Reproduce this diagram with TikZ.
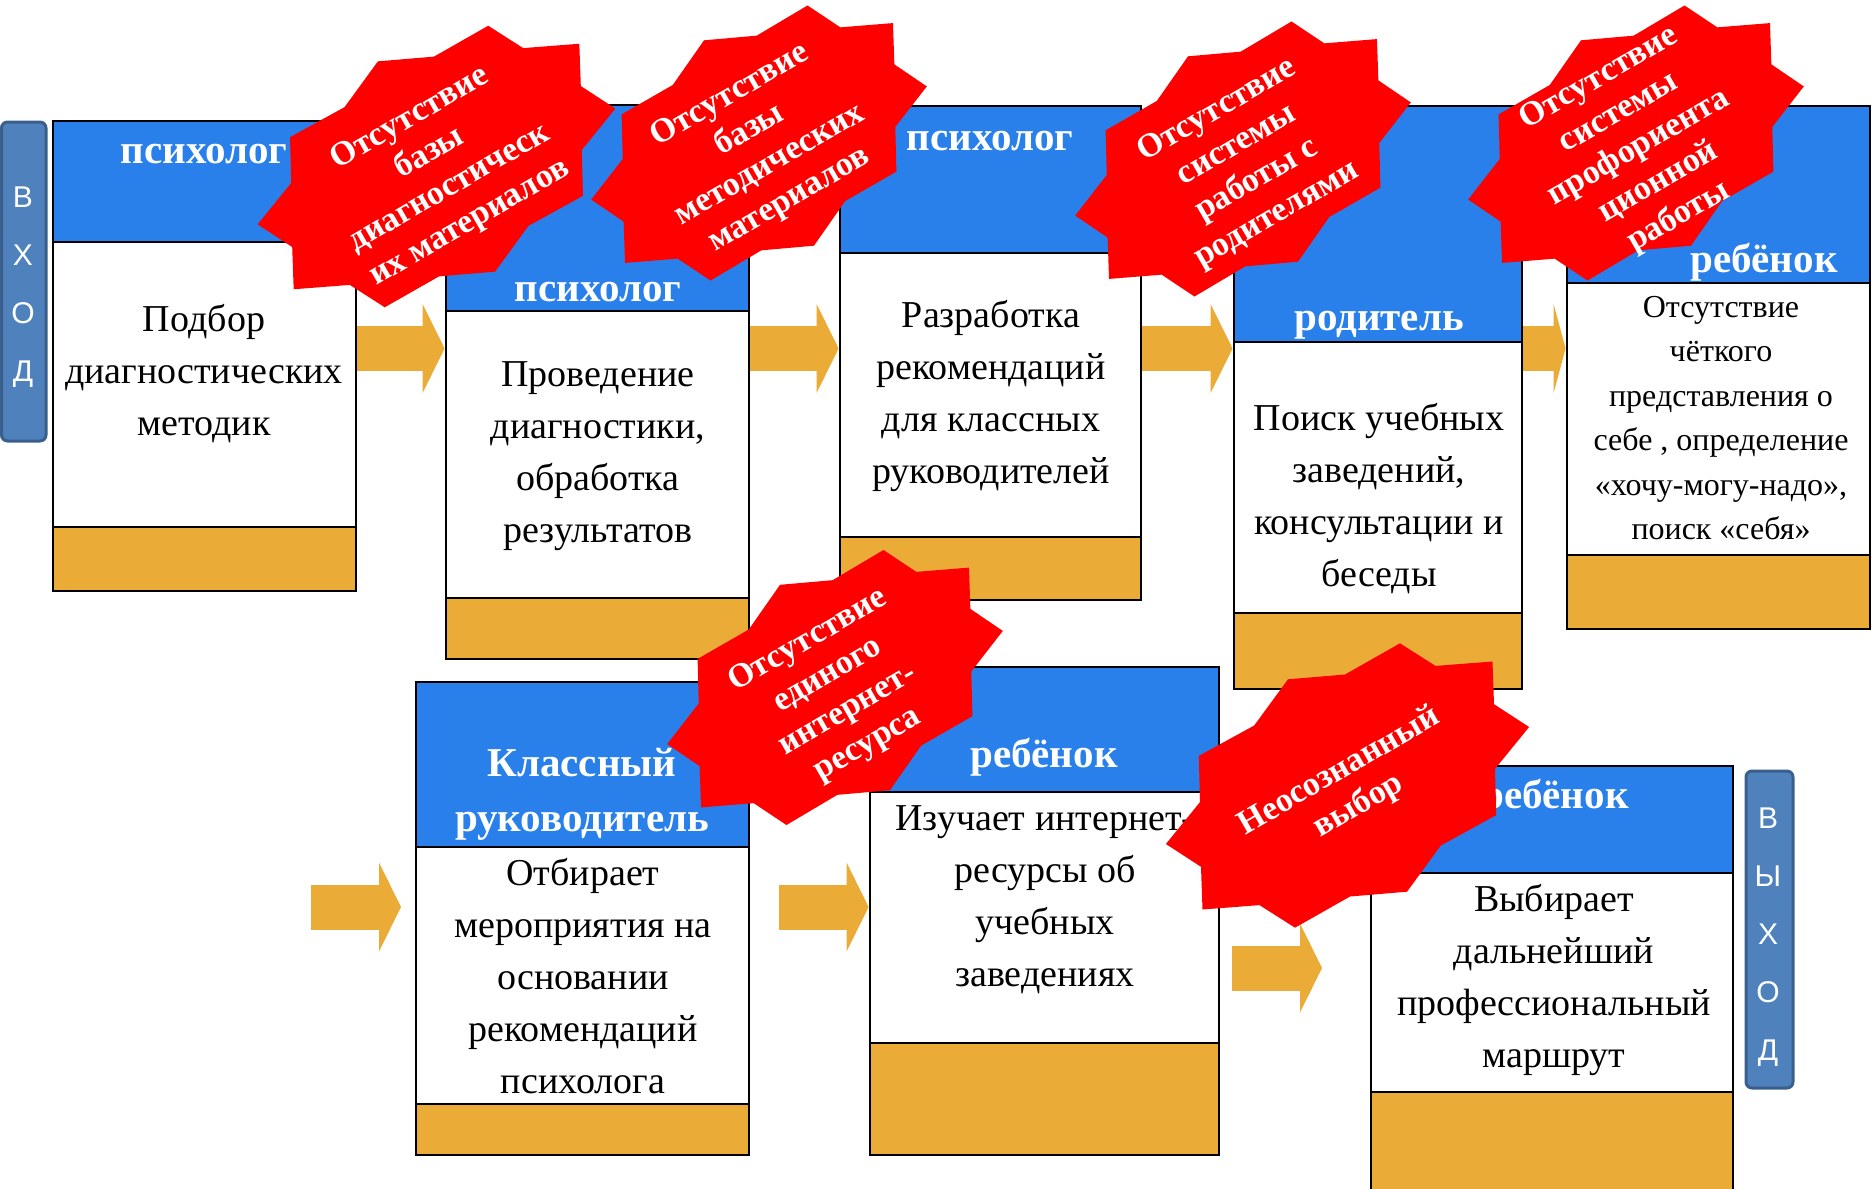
\documentclass[tikz,border=0pt]{standalone}
\usepackage{fontspec}
\setmainfont{Liberation Serif}
\newfontfamily\lettersfont{Liberation Sans}
\usetikzlibrary{fit,arrows.meta}
\definecolor{headblue}{HTML}{2A80EA}
\definecolor{footorange}{HTML}{EBAB37}
\definecolor{burstred}{HTML}{FE0000}
\definecolor{barblue}{HTML}{4F81BD}
\definecolor{barline}{HTML}{3A5F8C}
\tikzset{
  headbox/.style={draw, line width=1.4pt, fill=headblue, inner sep=0pt},
  bodybox/.style={draw, line width=1.4pt, fill=white, inner sep=0pt},
  footbox/.style={draw, line width=1.4pt, fill=footorange, inner sep=0pt},
  role/.style={text=white, font=\bfseries\fontsize{20.5}{27.5}\selectfont, align=center, inner sep=0pt},
  task/.style={font=\fontsize{19}{26}\selectfont, align=center, inner sep=0pt},
  flow/.style={draw=footorange, line width=22.5pt, -{Triangle[length=11pt, width=44.5pt, line width=0pt]}},
  sidebar/.style={draw=barline, fill=barblue, line width=1.5pt, rounded corners=3pt, inner sep=0pt},
  barletters/.style={text=white, font=\lettersfont\fontsize{15}{29}\selectfont, align=center, inner sep=0pt},
  gaptext/.style={text=white, font=\bfseries\fontsize{17}{20}\selectfont, align=center, rotate=30, inner sep=0pt},
  burst/.pic={\fill[burstred] (52.5,-142.2) -- (88,-119.6) -- (145,-124) -- (146.5,-81.3) -- (181.6,-58.5) -- (147.5,-16.6) -- (148.7,29.6) -- (93.3,60) -- (59.5,106.2) -- (2.5,111) -- (-52.5,142.2) -- (-88,119.6) -- (-145,124) -- (-146.5,81.3) -- (-181.6,58.5) -- (-147.5,16.6) -- (-148.7,-29.6) -- (-93.3,-60) -- (-59.5,-106.2) -- (-2.5,-111) -- cycle;}
}

\begin{document}
\begin{tikzpicture}[x=0.5pt, y=-0.5pt]
  \useasboundingbox (0,0) rectangle (1876,1189);
  \clip (0,0) rectangle (1876,1189);

  % upper row
  \node[headbox, fit={(53,121) (356,242)}] (b1head) {};
  \node[bodybox, fit={(53,242) (356,527)}] (b1body) {};
  \node[footbox, fit={(53,527) (356,591)}] (b1foot) {};
  \node[headbox, fit={(446,105) (749,311)}] (b2head) {};
  \node[bodybox, fit={(446,311) (749,598)}] (b2body) {};
  \node[footbox, fit={(446,598) (749,659)}] (b2foot) {};
  \node[headbox, fit={(840,106) (1141,253)}] (b3head) {};
  \node[bodybox, fit={(840,253) (1141,537)}] (b3body) {};
  \node[footbox, fit={(840,537) (1141,600)}] (b3foot) {};
  \node[headbox, fit={(1234,106) (1522,342)}] (b4head) {};
  \node[bodybox, fit={(1234,342) (1522,613)}] (b4body) {};
  \node[footbox, fit={(1234,613) (1522,689)}] (b4foot) {};
  \node[headbox, fit={(1567,106) (1870,283)}] (b5head) {};
  \node[bodybox, fit={(1567,283) (1870,555)}] (b5body) {};
  \node[footbox, fit={(1567,555) (1870,629)}] (b5foot) {};

  % lower row
  \node[headbox, fit={(416,682) (749,847)}] (b6head) {};
  \node[bodybox, fit={(416,847) (749,1104)}] (b6body) {};
  \node[footbox, fit={(416,1104) (749,1155)}] (b6foot) {};
  \node[headbox, fit={(870,667) (1219,792)}] (b7head) {};
  \node[bodybox, fit={(870,792) (1219,1043)}] (b7body) {};
  \node[footbox, fit={(870,1043) (1219,1155)}] (b7foot) {};
  \node[headbox, fit={(1371,766) (1733,873)}] (b8head) {};
  \node[bodybox, fit={(1371,873) (1733,1092)}] (b8body) {};
  \node[footbox, fit={(1371,1092) (1733,1195)}] (b8foot) {};

  \node[role, anchor=base] (r1) at (204,163) {психолог};
  \node[role, anchor=base] (r2) at (598,301) {психолог};
  \node[role, anchor=base] (r3) at (990,150) {психолог};
  \node[role, anchor=base] (r4) at (1379,330) {родитель};
  \node[role, anchor=base] (r5) at (1764,272) {ребёнок};
  \node[role] (r6) at (582,794) {Классный\\руководитель};
  \node[role, anchor=base] (r7) at (1044,767) {ребёнок};
  \node[role, anchor=base] (r8) at (1555,808) {ребёнок};

  \node[task] (t1) at (204,374) {Подбор\\диагностических\\методик};
  \node[task] (t2) at (598,456) {Проведение\\диагностики,\\обработка\\результатов};
  \node[task] (t3) at (991,396) {Разработка\\рекомендаций\\для классных\\руководителей};
  \node[task] (t4) at (1379,499) {Поиск учебных\\заведений,\\консультации и\\беседы};
  \node[task, font=\fontsize{16}{22.2}\selectfont] (t5) at (1721,418) {Отсутствие\\чёткого\\представления о\\себе , определение\\«хочу-могу-надо»,\\поиск «себя»};
  \node[task] (t6) at (583,976) {Отбирает\\мероприятия на\\основании\\рекомендаций\\психолога};
  \node[task] (t7) at (1045,900) {Изучает интернет-\\ресурсы об\\учебных\\заведениях};
  \node[task] (t8) at (1554,980) {Выбирает\\дальнейший\\профессиональный\\маршрут};

  % arrows
  \coordinate (lane1) at (0,348.5);
  \coordinate (in6) at (311,907);
  \coordinate (to6) at (401,907);
  \coordinate (in7) at (779,907);
  \coordinate (in8) at (1232,968);
  \coordinate (to8) at (1322,968);
  \draw[flow] (b1body.east |- lane1) -- (b2body.west |- lane1);
  \draw[flow] (b2body.east |- lane1) -- (b3body.west |- lane1);
  \draw[flow] (b3body.east |- lane1) -- (b4body.west |- lane1);
  \draw[flow, -{Triangle[length=6pt, width=44.5pt, line width=0pt]}] (b4body.east |- lane1) -- (b5body.west |- lane1);
  \draw[flow] (in6) -- (to6);
  \draw[flow] (in7) -- (b7body.west |- in7);
  \draw[flow] (in8) -- (to8);

  % entry and exit
  \node[sidebar, fit={(1.5,122) (46,441)}] (entry) {};
  \node[barletters] (entrytext) at (23,287) {В\\Х\\О\\Д};
  \node[sidebar, fit={(1746,771) (1793,1088)}] (exit) {};
  \node[barletters] (exittext) at (1768,937) {В\\Ы\\Х\\О\\Д};

  % gaps
  \pic[xscale=.985, yscale=.99] at (436.5,166.5) {burst};
  \pic[xscale=.924, yscale=.967] at (759,143) {burst};
  \pic[xscale=.924, yscale=.967] at (1243,159) {burst};
  \pic[xscale=.924, yscale=.967] at (1636,143) {burst};
  \pic[xscale=.924, yscale=.967] at (835,687.5) {burst};
  \pic at (1347.5,785.5) {burst};

  \node[gaptext] (gap1) at (440,171) {Отсутствие\\базы\\диагностическ\\их материалов};
  \node[gaptext] (gap2) at (760,148) {Отсутствие\\базы\\методических\\материалов};
  \node[gaptext] (gap3) at (1247,163) {Отсутствие\\системы\\работы с\\родителями};
  \node[gaptext] (gap4) at (1639,148) {Отсутствие\\системы\\профориента\\ционной\\работы};
  \node[gaptext] (gap5) at (838,693) {Отсутствие\\единого\\интернет-\\ресурса};
  \node[gaptext] (gap6) at (1349,789) {Неосознанный\\выбор};
\end{tikzpicture}
\end{document}
